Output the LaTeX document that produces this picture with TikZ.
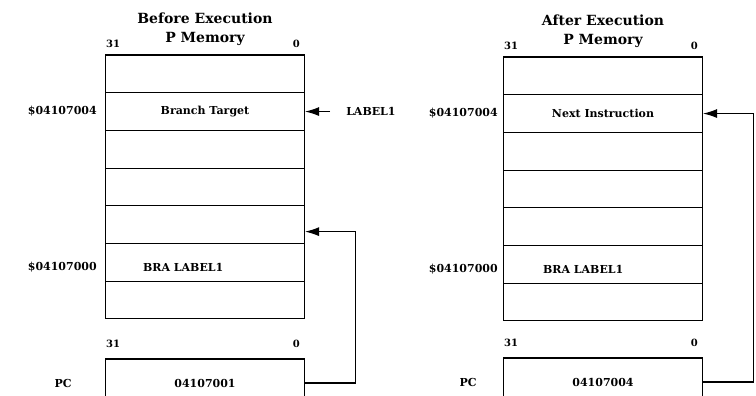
\documentclass[tikz,border=0pt]{standalone}
\usepackage{fontspec}
\setmainfont{DejaVu Serif}
\usetikzlibrary{arrows.meta, positioning}

\tikzset{
	memcell/.style={draw, line width=1.1pt, minimum width=199pt, minimum height=37.7pt, inner sep=0pt, font=\fontsize{11}{13}\selectfont\bfseries},
	regbox/.style={memcell, minimum height=48pt},
	addr/.style={font=\fontsize{11}{13}\selectfont\bfseries, inner sep=0pt},
	bitno/.style={font=\fontsize{10}{12}\selectfont\bfseries, inner sep=0pt},
	heading/.style={font=\fontsize{14}{19}\selectfont\bfseries, align=center, inner sep=0pt},
	ptr/.style={line width=1.1pt, -{Latex[length=14pt,width=9pt]}}
}

\begin{document}
\begin{tikzpicture}[x=1pt, y=1pt]
	\useasboundingbox (0,0) rectangle (756,396);
	% before execution
	\foreach \i in {1,...,7}
		\node[memcell] (L\i) at (205, {322.15-37.7*(\i-1)}) {};
	\node[heading, above=9pt of L1] (titleL) {Before Execution\\P Memory};
	\node[bitno, above right=7pt and 1pt of L1.north west] (hiL) {31};
	\node[bitno, above left=7pt and 5pt of L1.north east] (loL) {0};
	\node[addr] (btgt) at (L2) {Branch Target};
	\node[addr, anchor=west] (braL) at ([xshift=38pt, yshift=-5pt]L6.west) {BRA LABEL1};
	\node[addr, left=8pt of L2] (adrL4) {\$04107004};
	\node[addr, left=8pt of L6, yshift=-5pt] (adrL0) {\$04107000};
	\node[addr, right=41pt of L2] (lbl) {LABEL1};
	\draw[ptr] ([xshift=-16pt]lbl.west) -- (L2.east);
	\node[regbox] (pcL) at (205,13) {04107001};
	\node[addr, left=33pt of pcL] (pcnameL) {PC};
	\node[bitno, above right=11pt and 1pt of pcL.north west] (pchiL) {31};
	\node[bitno, above left=11pt and 5pt of pcL.north east] (pcloL) {0};
	\draw[ptr] (pcL.east) -- ++(50,0) |- ([yshift=-7pt]L5.east);
	% after execution
	\foreach \i in {1,...,7}
		\node[memcell] (R\i) at (603, {320.15-37.7*(\i-1)}) {};
	\node[heading, above=9pt of R1] (titleR) {After Execution\\P Memory};
	\node[bitno, above right=7pt and 1pt of R1.north west] (hiR) {31};
	\node[bitno, above left=7pt and 5pt of R1.north east] (loR) {0};
	\node[addr] (nxt) at (R2) {Next Instruction};
	\node[addr, anchor=west] (braR) at ([xshift=40pt, yshift=-5pt]R6.west) {BRA LABEL1};
	\node[addr, left=5pt of R2] (adrR4) {\$04107004};
	\node[addr, left=5pt of R6, yshift=-5pt] (adrR0) {\$04107000};
	\node[regbox] (pcR) at (603,14) {04107004};
	\node[addr, left=26pt of pcR] (pcnameR) {PC};
	\node[bitno, above right=11pt and 1pt of pcR.north west] (pchiR) {31};
	\node[bitno, above left=11pt and 5pt of pcR.north east] (pcloR) {0};
	\draw[ptr] (pcR.east) -- ++(50,0) |- (R2.east);
\end{tikzpicture}
\end{document}
